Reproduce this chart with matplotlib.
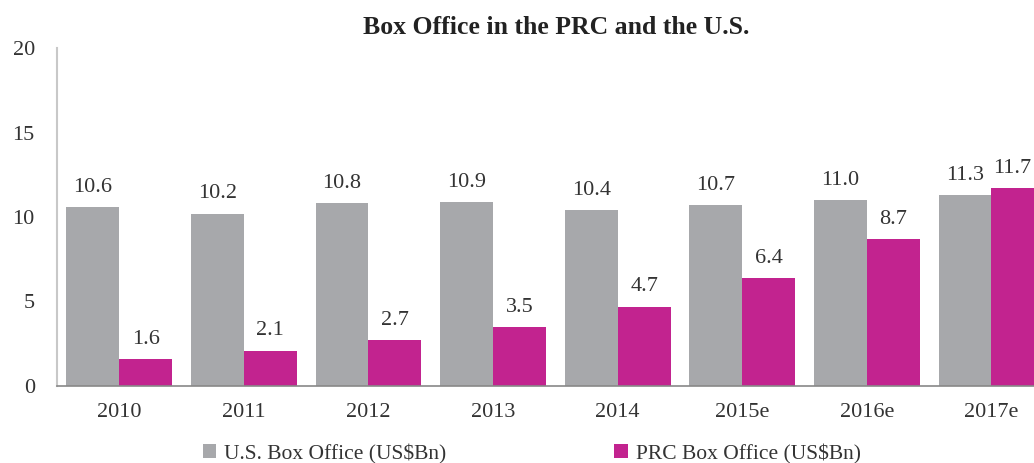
import matplotlib
matplotlib.use("Agg")
import matplotlib.pyplot as plt
import numpy as np

years = ["2010", "2011", "2012", "2013", "2014", "2015e", "2016e", "2017e"]
us_box = [10.6, 10.2, 10.8, 10.9, 10.4, 10.7, 11.0, 11.3]
prc_box = [1.6, 2.1, 2.7, 3.5, 4.7, 6.4, 8.7, 11.7]

plt.rcParams['font.family'] = ['Liberation Serif', 'DejaVu Serif']

W, H = 1034, 463
fig = plt.figure(figsize=(W/100, H/100), dpi=100)
ax = fig.add_axes([57/W, 1-386/H, (W-57)/W, (386-48)/H])

gray = "#a7a8ab"
mag = "#c2238f"
txtc = "#333333"
x = np.arange(len(years))
bw = 0.425
b1 = ax.bar(x - bw/2, us_box, bw, color=gray, label="U.S. Box Office (US$Bn)")
b2 = ax.bar(x + bw/2, prc_box, bw, color=mag, label="PRC Box Office (US$Bn)")

xmax = -0.5 + (W-57)/124.6
ax.set_xlim(-0.5, xmax)

for bars, vals in ((b1, us_box), (b2, prc_box)):
    for rect, v in zip(bars, vals):
        cx = rect.get_x() + rect.get_width()/2
        if rect.get_x() + rect.get_width() > xmax:
            ax.annotate(f"{v:.1f}", (xmax, v), xytext=(-2, 11), textcoords="offset points",
                        ha="right", va="baseline", fontsize=16, color=txtc,
                        annotation_clip=False)
        else:
            ax.annotate(f"{v:.1f}", (cx, v), xytext=(0, 11), textcoords="offset points",
                        ha="center", va="baseline", fontsize=16, color=txtc,
                        annotation_clip=False)

ax.set_ylim(0, 20)
ax.set_yticks([0, 5, 10, 15, 20])
ax.set_xticks(x)
ax.set_xticklabels(years)
ax.tick_params(axis="both", length=0, labelsize=16, colors=txtc)
ax.tick_params(axis="y", pad=16)
ax.tick_params(axis="x", pad=12)
for s in ["top", "right"]:
    ax.spines[s].set_visible(False)
ax.spines["left"].set_color("#c8c8c8")
ax.spines["left"].set_linewidth(1.5)
ax.spines["bottom"].set_color("#888888")
ax.spines["bottom"].set_linewidth(1.2)

fig.text(556/W, 1-27/H, "Box Office in the PRC and the U.S.", ha="center", va="center",
         fontsize=18.5, fontweight="bold", color="#222222")

leg = fig.legend(handles=[b1, b2], loc="center left", bbox_to_anchor=(203/W, 1-454/H), ncol=2,
                 frameon=False, fontsize=15.5, handlelength=0.62, handleheight=0.62,
                 columnspacing=7.8, handletextpad=0.37, borderpad=0, borderaxespad=0)
for t in leg.get_texts():
    t.set_color(txtc)

fig.savefig("out.png", dpi=100)
